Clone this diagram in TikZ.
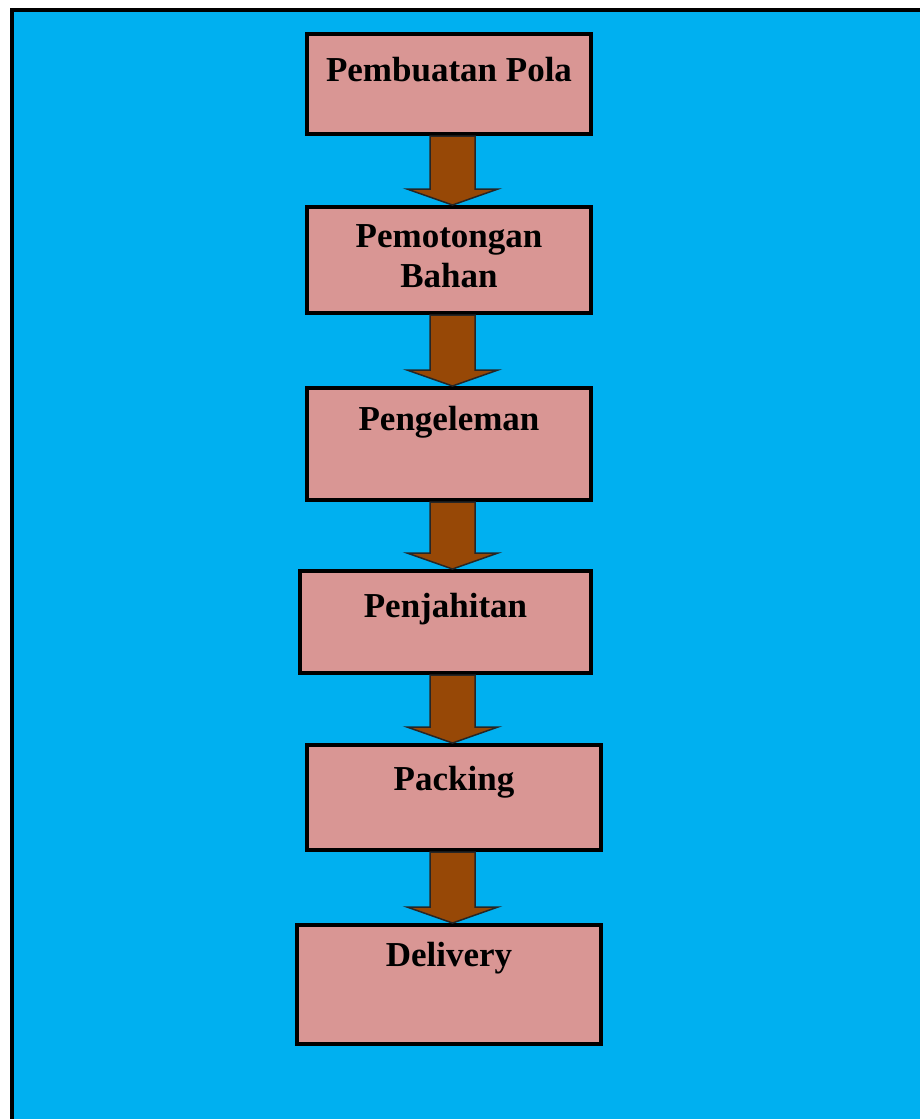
\documentclass[tikz,border=0pt]{standalone}
\usepackage{fontspec}
\setmainfont{Liberation Serif}
\usetikzlibrary{calc}
\definecolor{skyfill}{RGB}{0,176,240}
\definecolor{stagefill}{RGB}{217,150,148}
\definecolor{arrowfill}{RGB}{151,72,6}
\definecolor{arrowshade}{RGB}{0,100,140}
\tikzset{x=1pt,y=-1pt,
frame/.style={draw=black,line width=4pt,fill=skyfill},
stage/.style={rectangle,draw=black,line width=4pt,fill=stagefill,
  inner sep=0pt,font=\fontsize{35}{40}\selectfont\bfseries},
flowarrow/.style={draw=black!85,line width=1.5pt,fill=arrowfill,line join=miter},
flowshade/.style={fill=arrowshade},
}
% block arrow from the bottom of #1 to the top of #2
\newcommand{\blockarrow}[2]{%
\foreach \st/\dx/\dy in {flowshade/3/2,flowarrow/0/0}{
\path[\st,shift={(\dx,\dy)}]
($(#1.south -| spine)+(-22.5,0)$) -- ($(#2.north -| spine)+(-22.5,-16)$)
-- ($(#2.north -| spine)+(-45.5,-16)$) -- (#2.north -| spine)
-- ($(#2.north -| spine)+(45.5,-16)$) -- ($(#2.north -| spine)+(22.5,-16)$)
-- ($(#1.south -| spine)+(22.5,0)$) -- cycle;
}}

\begin{document}
\begin{tikzpicture}
\clip (0,0) rectangle (920,1119);
\draw[frame] (12,9.5) rectangle (960,1160);
\coordinate (spine) at (452.5,0);

% the stages, top to bottom
\node[stage,anchor=north,minimum width=284pt,text height=47pt,text depth=53pt] (pola) at (449,32) {Pembuatan Pola};
\node[stage,anchor=north,minimum width=284pt,text height=40pt,text depth=66pt] (potong) at (449,205) {\begin{tabular}[t]{@{}c@{}}Pemotongan\\Bahan\end{tabular}};
\node[stage,anchor=north,minimum width=284pt,text height=42pt,text depth=70pt] (lem) at (449,386) {Pengeleman};
\node[stage,anchor=north,minimum width=291pt,text height=46pt,text depth=56pt] (jahit) at (445.5,569) {Penjahitan};
\node[stage,anchor=north,minimum width=294pt,text height=45pt,text depth=60pt] (packing) at (454,743) {Packing};
\node[stage,anchor=north,minimum width=304pt,text height=41pt,text depth=78pt] (delivery) at (449,923) {Delivery};

\blockarrow{pola}{potong}
\blockarrow{potong}{lem}
\blockarrow{lem}{jahit}
\blockarrow{jahit}{packing}
\blockarrow{packing}{delivery}
\end{tikzpicture}
\end{document}
